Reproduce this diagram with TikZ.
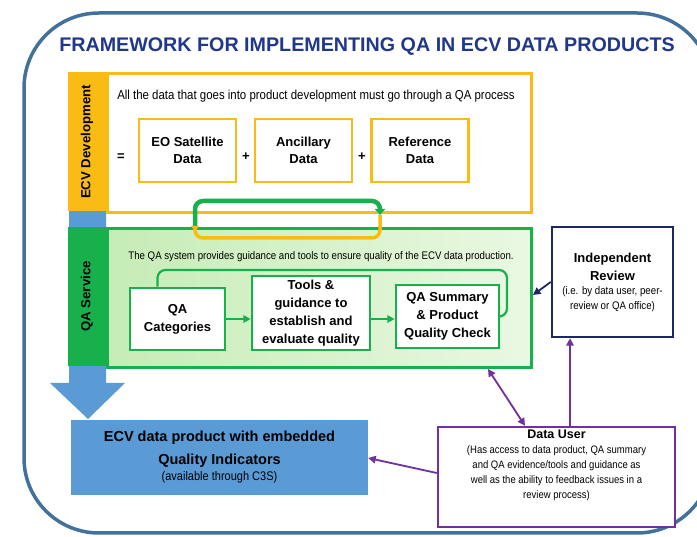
\documentclass[tikz,border=0pt]{standalone}
\usepackage{fontspec}
\setmainfont{Liberation Sans}
\newfontfamily\narrowsf[FakeStretch=0.88]{Liberation Sans}
\usetikzlibrary{arrows.meta}

\definecolor{frameblue}{RGB}{65,113,156}
\definecolor{titleblue}{RGB}{32,56,140}
\definecolor{ecvgold}{RGB}{250,188,20}
\definecolor{qagreen}{RGB}{24,176,76}
\definecolor{qalight}{RGB}{198,236,182}
\definecolor{qapale}{RGB}{234,248,226}
\definecolor{prodblue}{RGB}{91,155,213}
\definecolor{reviewnavy}{RGB}{28,40,100}
\definecolor{userpurple}{RGB}{112,48,160}

\newcommand{\fsz}[2]{\fontsize{#1}{#2}\selectfont}

\tikzset{
  sidebar/.style={rotate=90, minimum width=139pt, minimum height=38pt, inner sep=0pt, font=\bfseries\fsz{13.2}{15}},
  panel/.style={line width=3pt, inner sep=0pt, anchor=north west, minimum width=424pt, minimum height=139pt},
  databox/.style={draw=ecvgold, line width=2.5pt, fill=white, minimum width=97pt, minimum height=63pt, inner sep=0pt, align=center, font=\bfseries\fsz{13}{17}},
  qabox/.style={draw=qagreen, line width=2.5pt, fill=white, align=center, inner sep=0pt, font=\bfseries\fsz{13}{18}},
  sign/.style={font=\bfseries\fsz{13}{15}},
  flow/.style={-{Triangle[length=7.5pt,width=7.5pt]}, line width=1.8pt},
}

\begin{document}
\begin{tikzpicture}[x=1pt,y=-1pt]
    \useasboundingbox (0,0) rectangle (697,537);
    \fill[white] (0,0) rectangle (697,537);
    \draw[frameblue, line width=3.5pt, rounded corners=75pt] (24,13) rectangle (712,533);

    \node[font=\bfseries\fsz{19.7}{22}, text=titleblue] (title) at (367,47) {FRAMEWORK FOR IMPLEMENTING QA IN ECV DATA PRODUCTS};

    % big blue arrow running behind both side bars
    \fill[prodblue] (69,205) -- (106,205) -- (106,383) -- (125,383) -- (88,419) -- (50,383) -- (69,383) -- cycle;

    \node[panel, draw=ecvgold, fill=white] (ecv) at (106,72) {};
    \node[sidebar, fill=ecvgold] (ecvbar) at (87,142) {ECV Development};
    \node[panel, draw=qagreen, left color=qalight, right color=qapale] (qa) at (106,227) {};
    \node[sidebar, fill=qagreen] (qabar) at (87,296.5) {QA Service};

    \node[font=\narrowsf\fsz{13}{15}] (ecvnote) at (316,96) {All the data that goes into product development must go through a QA process};
    \node[sign] (eq) at (121,157) {=};
    \node[databox] (eo) at (187.5,150.5) {EO Satellite\\Data};
    \node[sign] (plusa) at (246,157) {+};
    \node[databox] (anc) at (303.5,150.5) {Ancillary\\Data};
    \node[sign] (plusb) at (362,157) {+};
    \node[databox] (ref) at (420,150.5) {Reference\\Data};

    \node[font=\narrowsf\fsz{11}{13}] (qanote) at (321,257) {The QA system provides guidance and tools to ensure quality of the ECV data production.};
    \node[qabox, minimum width=95pt, minimum height=62pt] (cat) at (177.5,319) {QA\\Categories};
    \node[qabox, minimum width=118pt, minimum height=74pt] (tools) at (311,313) {Tools \&\\guidance to\\establish and\\evaluate quality};
    \node[qabox, minimum width=103pt, minimum height=63pt] (summ) at (447.5,316.5) {QA Summary\\\& Product\\Quality Check};

    \path[flow, qagreen] (cat.east) edge (cat.east -| tools.west);
    \path[flow, qagreen] (cat.east -| tools.east) edge (cat.east -| summ.west);
    \draw[qagreen, line width=2.2pt, rounded corners=8pt] ([xshift=-20pt]cat.north) |- (507,270) |- (summ.east);

    % hand-over loop between development and service
    \coordinate (gup) at (195,229);
    \coordinate (gdown) at (380,215);
    \draw[qagreen, line width=4.5pt, rounded corners=8pt, -{Triangle[length=6pt,width=10pt]}] (gup) |- (380,201) -- (gdown);
    \draw[ecvgold, line width=3.5pt, rounded corners=8pt, -{Triangle[length=5pt,width=8pt]}] (gdown) |- (195,238) -- (195,231);

    \node[draw=reviewnavy, line width=2.5pt, fill=white, minimum width=121pt, minimum height=110pt, inner sep=0pt] (indep) at (612.5,282)
        {\parbox{115pt}{\centering{\bfseries\fsz{13}{18}Independent\\Review\par}\narrowsf\fsz{11}{14.5}(i.e. by data user, peer-\\review or QA office)\par}};

    \node[draw=userpurple, line width=2.5pt, fill=white, inner sep=3pt] (user) at (556.5,477)
        {\parbox[c][94pt][t]{231pt}{\centering{\bfseries\fsz{12.5}{14}Data User\par}\narrowsf\fsz{10.8}{15}(Has access to data product, QA summary\\and QA evidence/tools and guidance as\\well as the ability to feedback issues in a\\review process)\par}};

    \node[fill=prodblue, minimum width=297pt, minimum height=75pt, inner sep=0pt] (prod) at (219.5,457.5)
        {\parbox{290pt}{\centering\bfseries\fsz{14.5}{23}ECV data product with embedded\\Quality Indicators\par\mdseries\narrowsf\fsz{12.5}{16}(available through C3S)\par}};

    \path[flow, reviewnavy] (indep.west) edge (qa.east |- 0,295);
    \path[flow, userpurple, {Triangle[length=7.5pt,width=7.5pt]}-{Triangle[length=7.5pt,width=7.5pt]}] (user.north -| 525,0) edge (qa.south -| 488,0);
    \path[flow, userpurple] (user.north -| 570,0) edge (indep.south -| 570,0);
    \path[flow, userpurple] (user.west |- 0,473) edge (prod.east |- 0,458);
\end{tikzpicture}
\end{document}
